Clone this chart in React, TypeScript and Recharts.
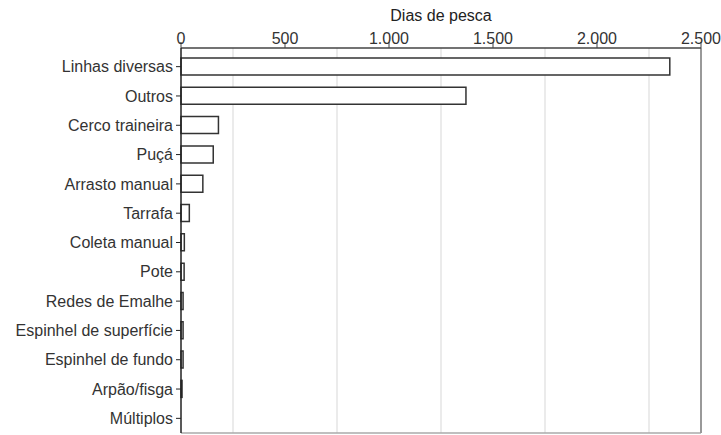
import { BarChart, Bar, XAxis, YAxis, CartesianGrid, ReferenceLine } from "recharts";

// artes de pesca e dias de pesca
const categorias = [
  "Linhas diversas",
  "Outros",
  "Cerco traineira",
  "Puçá",
  "Arrasto manual",
  "Tarrafa",
  "Coleta manual",
  "Pote",
  "Redes de Emalhe",
  "Espinhel de superfície",
  "Espinhel de fundo",
  "Arpão/fisga",
  "Múltiplos",
];
const diasDePesca = [2350, 1370, 180, 155, 105, 40, 16, 15, 10, 10, 10, 5, 0];
const ticksPrincipais = [0, 500, 1000, 1500, 2000, 2500];
const ticksGrade = [250, 750, 1250, 1750, 2250];

const data = categorias.map((arte, i) => ({ arte, dias: diasDePesca[i] }));

const fmt = (v: number) => String(v).replace(/\B(?=(\d{3})+(?!\d))/g, ".");

const FONT = "'Liberation Sans', Arial, sans-serif";

// linhas verticais da grade nos valores intermediários, pela escala do eixo
const gradeX = ({ xAxis }: any) => {
  const s = xAxis?.scale;
  if (!s) return [];
  return ticksGrade.map((v) => (typeof s === "function" ? s(v) : s.map(v)));
};

// só a borda inferior da área do gráfico
const bordaInferior = ({ offset }: any) => [offset.top + offset.height];

export default function App() {
  return (
    <div style={{ position: "absolute", left: 0, top: 0, background: "#fff", fontFamily: FONT }}>
      <BarChart
        width={721}
        height={435}
        data={data}
        layout="vertical"
        margin={{ top: 18, right: 20, left: 0, bottom: 2 }}
      >
        <CartesianGrid
          horizontal={false}
          verticalCoordinatesGenerator={gradeX}
          stroke="#e4e4e4"
          strokeWidth={1.5}
        />
        <CartesianGrid
          vertical={false}
          horizontalCoordinatesGenerator={bordaInferior}
          stroke="#aaa"
          strokeWidth={1.5}
        />
        <XAxis
          type="number"
          orientation="top"
          domain={[0, 2500]}
          ticks={ticksPrincipais}
          tickFormatter={fmt}
          height={30}
          tickSize={6}
          tickMargin={-2}
          axisLine={{ stroke: "#444", strokeWidth: 1.5 }}
          tickLine={{ stroke: "#444" }}
          tick={{ fill: "#333", fontSize: 16, fontFamily: FONT }}
          label={{ value: "Dias de pesca", position: "top", offset: -3, fill: "#222", fontSize: 16, fontFamily: FONT }}
        />
        <YAxis
          type="category"
          dataKey="arte"
          width={181}
          interval={0}
          tickSize={5}
          tickMargin={3}
          padding={{ top: 4, bottom: 0 }}
          axisLine={{ stroke: "#222", strokeWidth: 1.5 }}
          tickLine={{ stroke: "#222" }}
          tick={{ fill: "#333", fontSize: 16, fontFamily: FONT }}
        />
        <ReferenceLine x={2500} stroke="#999" strokeWidth={2} />
        <Bar
          dataKey="dias"
          fill="#fff"
          stroke="#333"
          strokeWidth={1.5}
          barSize={17}
          isAnimationActive={false}
        />
      </BarChart>
    </div>
  );
}
